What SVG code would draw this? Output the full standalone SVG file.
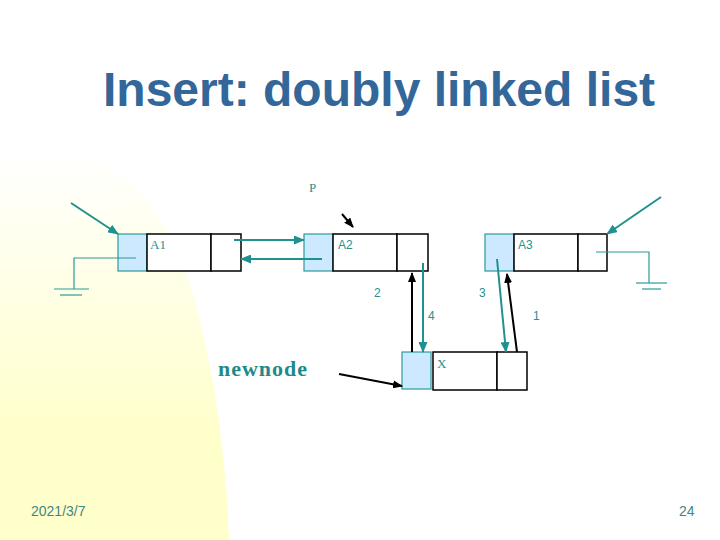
<svg xmlns="http://www.w3.org/2000/svg" width="720" height="540" viewBox="0 0 720 540">
<defs>
<linearGradient id="bgY" x1="0" y1="150" x2="0" y2="430" gradientUnits="userSpaceOnUse">
<stop offset="0" stop-color="#FFFFFF"/>
<stop offset="1" stop-color="#FFFFCC"/>
</linearGradient>
<marker id="ahT" markerWidth="11" markerHeight="9" refX="10" refY="4.5" orient="auto" markerUnits="userSpaceOnUse">
<path d="M0,0 L11,4.5 L0,9 Z" fill="#1f9191"/>
</marker>
<marker id="ahK" markerWidth="10" markerHeight="8" refX="9" refY="4" orient="auto" markerUnits="userSpaceOnUse">
<path d="M0,0 L10,4 L0,8 Z" fill="#000"/>
</marker>
<style>
.sh{fill:#CCE9FF;stroke:#2a9a9a;stroke-width:1.2}
.wb{fill:#fff;stroke:#000;stroke-width:1.5}
.lbl{font-family:"Liberation Sans",Arial,sans-serif;font-size:12px;fill:#2a8f8f}
.lbls{font-family:"Liberation Serif","Times New Roman",serif;font-size:13px;fill:#2a8f8f}
.t{stroke:#1f9191;stroke-width:2;fill:none}
.g{stroke:#2a9a9a;stroke-width:1.2;fill:none}
.k{stroke:#000;stroke-width:2;fill:none}
</style>
</defs>
<rect width="720" height="540" fill="#fff"/>
<path d="M0,140 C90,132 160,185 192,290 C212,360 226,450 229,540 L0,540 Z" fill="url(#bgY)"/>
<text x="103" y="106" font-family="'Liberation Sans',Arial,sans-serif" font-weight="bold" font-size="48" fill="#336699">Insert: doubly linked list</text>

<g id="nodeA1">
<rect class="sh" x="118" y="234" width="29" height="37"/>
<rect class="wb" x="147" y="234" width="64" height="37"/>
<rect class="wb" x="211" y="234" width="30" height="37"/>
<text class="lbls" x="150" y="249">A1</text>
</g>
<g id="nodeA2">
<rect class="sh" x="304" y="234" width="29" height="37"/>
<rect class="wb" x="333" y="234" width="64" height="37"/>
<rect class="wb" x="397" y="234" width="31" height="37"/>
<text class="lbl" x="338" y="249">A2</text>
</g>
<g id="nodeA3">
<rect class="sh" x="485" y="234" width="29" height="37"/>
<rect class="wb" x="514" y="234" width="64" height="37"/>
<rect class="wb" x="578" y="234" width="29" height="37"/>
<text class="lbl" x="518" y="249">A3</text>
</g>
<g id="nodeNew">
<rect class="sh" x="402" y="352" width="29" height="37"/>
<rect class="wb" x="433" y="352" width="64" height="38"/>
<rect class="wb" x="497" y="352" width="30" height="38"/>
<text class="lbls" x="437" y="368" font-size="12">X</text>
</g>
<g id="groundA1">
<polyline class="g" points="136,258 74,258 74,289"/>
<line class="g" x1="54" y1="289" x2="89" y2="289"/>
<line class="g" x1="60" y1="295" x2="82" y2="295"/>
</g>
<g id="groundA3">
<polyline class="g" points="596,252 649,252 649,283"/>
<line class="g" x1="636" y1="283" x2="667" y2="283"/>
<line class="g" x1="642" y1="289" x2="661" y2="289"/>
</g>

<g id="connectors">
<line class="t" x1="71" y1="203" x2="118" y2="234" marker-end="url(#ahT)"/>
<line class="t" x1="234" y1="240" x2="304" y2="240" marker-end="url(#ahT)"/>
<line class="t" x1="322" y1="259" x2="241" y2="259" marker-end="url(#ahT)"/>
<line class="t" x1="661" y1="197" x2="607" y2="234" marker-end="url(#ahT)"/>
<line class="k" x1="342" y1="214" x2="353" y2="227" marker-end="url(#ahK)"/>
<line class="k" x1="339" y1="374" x2="402" y2="386" marker-end="url(#ahK)"/>
<line class="k" x1="412" y1="352" x2="412" y2="273" marker-end="url(#ahK)"/>
<line class="t" x1="423" y1="263" x2="423" y2="352" marker-end="url(#ahT)"/>
<line class="t" x1="497" y1="259" x2="506" y2="352" marker-end="url(#ahT)"/>
<line class="k" x1="517" y1="352" x2="507" y2="274" marker-end="url(#ahK)"/>
</g>

<text class="lbls" x="309" y="192" font-size="12">P</text>
<text class="lbl" x="374" y="297">2</text>
<text class="lbl" x="479" y="297">3</text>
<text class="lbl" x="428" y="320">4</text>
<text class="lbl" x="533" y="320">1</text>
<text x="218" y="376" font-family="'Liberation Serif','Times New Roman',serif" font-weight="bold" font-size="22" fill="#1f8a8a" textLength="89">newnode</text>
<text x="31" y="516" font-family="'Liberation Sans',Arial,sans-serif" font-size="14" fill="#3f8585">2021/3/7</text>
<text x="679" y="516" font-family="'Liberation Sans',Arial,sans-serif" font-size="14" fill="#3f8585">24</text>
</svg>
